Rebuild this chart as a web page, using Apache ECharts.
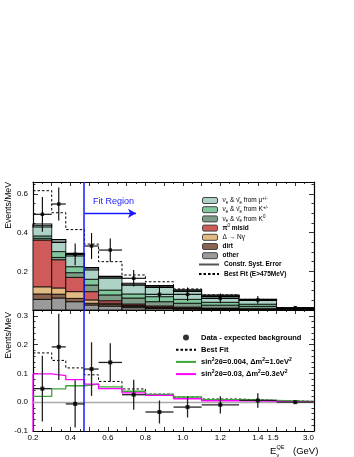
<!DOCTYPE html>
<html><head><meta charset="utf-8">
<script src="https://cdn.jsdelivr.net/npm/echarts@6/dist/echarts.min.js"></script>
<style>html,body{margin:0;padding:0;background:#fff}#c{width:354px;height:457px}</style>
</head><body><div id="c"></div>
<script>
// ---------- DATA ----------
const binEdges = [0.2, 0.3, 0.375, 0.475, 0.55, 0.675, 0.8, 0.95, 1.1, 1.3, 1.5, 3.0];
const xTickLabels = {0.2:'0.2', 0.4:'0.4', 0.6:'0.6', 0.8:'0.8', 1.0:'1.0', 1.2:'1.2', 1.4:'1.4', 1.5:'1.5', 1.7:'3.0'};
// top panel stacked backgrounds (Events/MeV), bottom -> top
const other   = [0.055, 0.062, 0.043, 0.026, 0.020, 0.012, 0.008, 0.005, 0.004, 0.003, 0.001];
const dirt    = [0.028, 0.020, 0.017, 0.009, 0.008, 0.006, 0.004, 0.003, 0.002, 0.001, 0.0003];
const deltaNg = [0.037, 0.032, 0.035, 0.017, 0.007, 0.005, 0.003, 0.002, 0.001, 0.001, 0.0002];
const pi0     = [0.242, 0.146, 0.074, 0.043, 0.013, 0.008, 0.006, 0.005, 0.003, 0.002, 0.001];
const fromK0  = [0.009, 0.012, 0.024, 0.034, 0.030, 0.031, 0.022, 0.020, 0.015, 0.012, 0.003];
const fromKpm = [0.012, 0.030, 0.031, 0.030, 0.025, 0.021, 0.026, 0.020, 0.015, 0.011, 0.002];
const fromMu  = [0.054, 0.055, 0.062, 0.054, 0.066, 0.050, 0.052, 0.045, 0.033, 0.022, 0.003];
const systErr = [0.008, 0.008, 0.007, 0.006, 0.005, 0.005, 0.005, 0.004, 0.004, 0.003, 0.001];
const bestFitTop = [0.617, 0.503, 0.416, 0.341, 0.250, 0.181, 0.146, 0.109, 0.078, 0.055, 0.010];
const dataTop    = [0.495, 0.548, 0.288, 0.331, 0.310, 0.164, 0.081, 0.081, 0.060, 0.052, 0.012];
const dataTopErr = [0.090, 0.085, 0.056, 0.067, 0.060, 0.043, 0.040, 0.035, 0.025, 0.020, 0.004];
// bottom panel: data - expected background
const excess     = [0.047, 0.192, -0.006, 0.115, 0.138, 0.026, -0.034, -0.017, -0.009, 0.006, 0.000];
const excessErr  = [0.114, 0.115, 0.082, 0.093, 0.067, 0.052, 0.040, 0.036, 0.030, 0.025, 0.005];
const bestFitExc = [0.171, 0.145, 0.119, 0.095, 0.072, 0.046, 0.028, 0.018, 0.011, 0.006, 0.003];
const oscA       = [0.020, 0.046, 0.057, 0.063, 0.053, 0.038, 0.027, 0.018, 0.009, 0.006, 0.003]; // sin^2 2θ=0.004, Δm^2=1.0
const oscB       = [0.098, 0.092, 0.078, 0.063, 0.047, 0.032, 0.024, 0.012, 0.005, 0.003, 0.001]; // sin^2 2θ=0.03, Δm^2=0.3

// ---------- helpers ----------
const fx = e => e <= 1.5 ? e : 1.5 + (e - 1.5) * 0.2 / 1.5;
const nb = binEdges.length - 1;
const lo = i => fx(binEdges[i]), hi = i => fx(binEdges[i + 1]);
const ctr = i => fx((binEdges[i] + binEdges[i + 1]) / 2);
const steps = (vals, from) => { const p = []; if (from !== undefined) p.push([lo(0), from]); vals.forEach((v, i) => { p.push([lo(i), v]); p.push([hi(i), v]); }); return p; };
const BOT_MIN = -0.1, BOT_MAX = 0.32, TOP_MAX = 0.662;

const comps = [
  {key: 'other', vals: other,   color: '#9a9a9a'},
  {key: 'dirt',  vals: dirt,    color: '#8a6450'},
  {key: 'delta', vals: deltaNg, color: '#e3bb82'},
  {key: 'pi0',   vals: pi0,     color: '#cf5a5a'},
  {key: 'K0',    vals: fromK0,  color: '#7f9c88'},
  {key: 'Kpm',   vals: fromKpm, color: '#80c79c'},
  {key: 'mu',    vals: fromMu,  color: '#acd3c5'}
];
let base = new Array(nb).fill(0);
comps.forEach(c => { c.lows = base.slice(); base = base.map((b, i) => b + c.vals[i]); c.highs = base.slice(); });
const stackTop = base;

function rectSeries(name, color, lows, highs, opts) {
  opts = opts || {};
  return {
    type: 'custom', name: name, xAxisIndex: 0, yAxisIndex: 0, z: opts.z || 2,
    itemStyle: {color: color, borderColor: '#333', borderWidth: 1},
    data: lows.map((l, i) => [lo(i), hi(i), l, highs[i]]),
    encode: {x: [0, 1], y: [2, 3]},
    renderItem: (p, api) => {
      const a = api.coord([api.value(0), api.value(2)]);
      const b = api.coord([api.value(1), api.value(3)]);
      return {type: 'rect', shape: {x: a[0], y: b[1], width: b[0] - a[0], height: a[1] - b[1]},
        style: {fill: opts.noFill ? 'none' : color, stroke: '#000', lineWidth: opts.lw || 0.8}};
    }
  };
}
function errSeries(vals, errs, gi, lw, color) {
  return {
    type: 'custom', xAxisIndex: gi * 2, yAxisIndex: gi * 2, z: 6,
    data: vals.map((v, i) => [lo(i), hi(i), ctr(i), v, errs[i]]),
    encode: {x: [0, 1], y: 3},
    renderItem: (p, api) => {
      const y = api.value(3), e = api.value(4), xc = api.value(2);
      const a = api.coord([api.value(0), y]), b = api.coord([api.value(1), y]);
      const t = api.coord([xc, y + e]), d = api.coord([xc, y - e]);
      return {type: 'group', children: [
        {type: 'line', shape: {x1: a[0], y1: a[1], x2: b[0], y2: b[1]}, style: {stroke: color, lineWidth: lw}},
        {type: 'line', shape: {x1: t[0], y1: t[1], x2: d[0], y2: d[1]}, style: {stroke: color, lineWidth: lw}}
      ]};
    }
  };
}

const FONT = '"Liberation Sans", Arial, Helvetica, sans-serif';
const xFmt = v => { const k = Math.round(v * 10) / 10; if (Math.abs(v - k) > 1e-6) return ''; const s = xTickLabels[k]; if (!s) return ''; return k === 1.5 ? '{s|' + s + '}' : (k === 1.7 ? '{e|' + s + '}' : s); };
const yFmt = v => { const k = Math.round(v * 10) / 10; if (Math.abs(v - k) > 1e-6) return ''; return k.toFixed(1); };

function xAx(gi, pos, labels) {
  return {type: 'value', gridIndex: gi, position: pos, min: 0.2, max: 1.7, interval: 0.1,
    axisLine: {show: true, onZero: false, lineStyle: {color: '#000', width: 1.2}},
    axisTick: {show: true, inside: true, length: 4, lineStyle: {color: '#000', width: 0.8}},
    minorTick: {show: true, splitNumber: 2, length: 2, lineStyle: {color: '#000', width: 0.8}},
    splitLine: {show: false},
    axisLabel: {show: labels, formatter: xFmt, fontSize: 8, color: '#000', fontFamily: FONT, margin: 3,
      rich: {s: {fontSize: 8, fontFamily: FONT, color: '#000', padding: [0, 7, 0, 0]},
             e: {fontSize: 8, fontFamily: FONT, color: '#000', padding: [0, 11, 0, 0]}}}};
}
function yAx(gi, pos, labels, min, max, minorN) {
  return {type: 'value', gridIndex: gi, position: pos, min: min, max: max, interval: gi === 0 ? 0.2 : 0.1,
    axisLine: {show: true, onZero: false, lineStyle: {color: '#000', width: 1.2}},
    axisTick: {show: true, inside: true, length: 5, lineStyle: {color: '#000', width: 0.8}},
    minorTick: {show: true, splitNumber: minorN, length: 2.5, lineStyle: {color: '#000', width: 0.8}},
    splitLine: {show: false},
    axisLabel: {show: labels, formatter: gi === 0 ? (v => (v < 1e-6 || Math.abs(v * 5 - Math.round(v * 5)) > 1e-6) ? '' : v.toFixed(1)) : yFmt,
      fontSize: 8, color: '#000', fontFamily: FONT, margin: 5}};
}

const legendText = {
  mu:    '{t|ν}{sb|e}{t| & ν̄}{sb|e}{t| from μ}{sp|+/-}',
  Kpm:   '{t|ν}{sb|e}{t| & ν̄}{sb|e}{t| from K}{sp|+/-}',
  K0:    '{t|ν}{sb|e}{t| & ν̄}{sb|e}{t| from K}{sp|0}',
  pi0:   '{b|π}{sp|0}{b| misid}',
  delta: '{t|Δ → Nγ}',
  dirt:  '{b|dirt}',
  other: '{b|other}',
  syst:  '{b|Constr. Syst. Error}',
  bfTop: '{b|Best Fit (E>475MeV)}',
  data:  '{c|Data - expected background}',
  bf:    '{c|Best Fit}',
  oA:    '{c|sin}{s2|2}{c|2θ=0.004, Δm}{s2|2}{c|=1.0eV}{s2|2}',
  oB:    '{c|sin}{s2|2}{c|2θ=0.03, Δm}{s2|2}{c|=0.3eV}{s2|2}'
};
const rich = {
  t:  {fontSize: 6.5, lineHeight: 9, fontFamily: FONT, color: '#000'},
  b:  {fontSize: 6.5, lineHeight: 9, fontFamily: FONT, fontWeight: 'bold', color: '#000'},
  sb: {fontSize: 4.5, lineHeight: 5, fontFamily: FONT, color: '#000', verticalAlign: 'bottom'},
  sp: {fontSize: 4.5, lineHeight: 5, fontFamily: FONT, color: '#000', verticalAlign: 'top'},
  c:  {fontSize: 7.5, lineHeight: 9, fontFamily: FONT, fontWeight: 'bold', color: '#000'},
  s2: {fontSize: 5, lineHeight: 5, fontFamily: FONT, fontWeight: 'bold', color: '#000', verticalAlign: 'top'}
};
const fmtLegend = n => legendText[n] || n;
const noSym = {opacity: 0};

const series = [];
comps.forEach(c => series.push(rectSeries(c.key, c.color, c.lows, c.highs)));
series.push(rectSeries('systBox', '#000', stackTop.map((s, i) => s - systErr[i]), stackTop.map((s, i) => s + systErr[i]), {noFill: true, lw: 1.1, z: 3}));
series.push({type: 'line', name: 'syst', xAxisIndex: 0, yAxisIndex: 0, data: [], symbol: 'none', lineStyle: {color: '#555', width: 1.2}, itemStyle: {color: '#555'}});
series.push({type: 'line', name: 'bfTop', xAxisIndex: 0, yAxisIndex: 0, data: steps(bestFitTop), symbol: 'none', z: 4,
  lineStyle: {color: '#000', width: 1, type: [2.5, 2]}, itemStyle: {color: '#000'},
  markLine: {silent: true, symbol: ['none', 'arrow'], symbolSize: [7, 8], label: {show: false},
    lineStyle: {color: '#1a1aff', width: 1.3, type: 'solid'},
    data: [[{coord: [0.475, 0.5]}, {coord: [0.75, 0.5]}]]}});
series.push(errSeries(dataTop, dataTopErr, 0, 1.1, '#000'));
series.push({type: 'scatter', name: 'dataTop', xAxisIndex: 0, yAxisIndex: 0, z: 7, symbol: 'rect', symbolSize: 3.5,
  itemStyle: {color: '#000'}, data: dataTop.map((v, i) => [ctr(i), v]),
  markLine: {silent: true, symbol: 'none', label: {show: false}, lineStyle: {color: '#1a1aff', width: 1.5, type: 'solid'}, data: [{xAxis: 0.475}]}});

// bottom panel
series.push({type: 'line', name: 'zero', xAxisIndex: 2, yAxisIndex: 2, data: [], symbol: 'none',
  markLine: {silent: true, symbol: 'none', label: {show: false}, lineStyle: {color: '#aaaaaa', width: 1.3, type: 'solid'}, data: [{yAxis: 0}]}});
series.push({type: 'line', name: 'bf', xAxisIndex: 2, yAxisIndex: 2, data: steps(bestFitExc), symbol: 'none', z: 3,
  lineStyle: {color: '#000', width: 1, type: [2.5, 2]}, itemStyle: {color: '#000'}});
series.push({type: 'line', name: 'oA', xAxisIndex: 2, yAxisIndex: 2, data: steps(oscA), symbol: 'none', z: 3,
  lineStyle: {color: '#3aa63a', width: 1.3}, itemStyle: {color: '#3aa63a'}});
series.push({type: 'line', name: 'oB', xAxisIndex: 2, yAxisIndex: 2, data: steps(oscB, BOT_MIN), symbol: 'none', z: 3,
  lineStyle: {color: '#ff00ff', width: 1.3}, itemStyle: {color: '#ff00ff'}});
series.push(errSeries(excess, excessErr, 1, 1.3, '#222'));
series.push({type: 'scatter', name: 'data', xAxisIndex: 2, yAxisIndex: 2, z: 7, symbol: 'rect', symbolSize: 4,
  itemStyle: {color: '#000'}, data: excess.map((v, i) => [ctr(i), v]),
  markLine: {silent: true, symbol: 'none', label: {show: false}, lineStyle: {color: '#1a1aff', width: 1.5, type: 'solid'}, data: [{xAxis: 0.475}]}});

const option = {
  animation: false,
  backgroundColor: '#fff',
  grid: [
    {left: 33, right: 40, top: 182, height: 128},
    {left: 33, right: 40, top: 310, height: 121}
  ],
  xAxis: [xAx(0, 'bottom', false), xAx(0, 'top', false), xAx(1, 'bottom', true), xAx(1, 'top', false)],
  yAxis: [yAx(0, 'left', true, 0, TOP_MAX, 4), yAx(0, 'right', false, 0, TOP_MAX, 4),
          yAx(1, 'left', true, BOT_MIN, BOT_MAX, 5), yAx(1, 'right', false, BOT_MIN, BOT_MAX, 5)],
  legend: [
    {orient: 'vertical', left: 197, top: 191, itemWidth: 15, itemHeight: 6, itemGap: 0.2, icon: 'roundRect',
     selectedMode: false, formatter: fmtLegend, textStyle: {rich: rich, lineHeight: 9, fontSize: 6.5},
     itemStyle: {borderColor: '#444', borderWidth: 1},
     data: ['mu', 'Kpm', 'K0', 'pi0', 'delta', 'dirt', 'other']},
    {orient: 'vertical', left: 193, top: 255, itemWidth: 20, itemHeight: 6, itemGap: 0.4,
     selectedMode: false, formatter: fmtLegend, textStyle: {rich: rich, lineHeight: 9, fontSize: 6.5},
     itemStyle: noSym,
     data: ['syst', 'bfTop']},
    {orient: 'vertical', left: 170, top: 328, itemWidth: 20, itemHeight: 6, itemGap: 3.2,
     selectedMode: false, formatter: fmtLegend, textStyle: {rich: rich, lineHeight: 9, fontSize: 7.5},
     data: [{name: 'data', icon: 'circle'}, {name: 'bf', itemStyle: noSym}, {name: 'oA', itemStyle: noSym}, {name: 'oB', itemStyle: noSym}]}
  ],
  graphic: [
    {type: 'text', x: 9, y: 182, rotation: Math.PI / 2, style: {text: 'Events/MeV', fontSize: 8.7, fontFamily: FONT, fill: '#000', align: 'right', verticalAlign: 'middle'}},
    {type: 'text', x: 9, y: 312, rotation: Math.PI / 2, style: {text: 'Events/MeV', fontSize: 8.7, fontFamily: FONT, fill: '#000', align: 'right', verticalAlign: 'middle'}},
    {type: 'text', x: 93, y: 202, style: {text: 'Fit Region', fontSize: 9, fontFamily: FONT, fill: '#1a1aff', align: 'left', verticalAlign: 'middle'}},
    {type: 'text', x: 270, y: 451, style: {text: 'E', fontSize: 9.5, fontFamily: FONT, fill: '#000', align: 'left', verticalAlign: 'middle'}},
    {type: 'text', x: 276.5, y: 447.5, style: {text: 'QE', fontSize: 5.5, fontFamily: FONT, fill: '#000', align: 'left', verticalAlign: 'middle'}},
    {type: 'text', x: 276.5, y: 455, style: {text: 'ν', fontSize: 5.5, fontFamily: FONT, fill: '#000', align: 'left', verticalAlign: 'middle'}},
    {type: 'text', x: 293, y: 451, style: {text: '(GeV)', fontSize: 9.5, fontFamily: FONT, fill: '#000', align: 'left', verticalAlign: 'middle'}}
  ],
  series: series
};
const chart = echarts.init(document.getElementById('c'), null, {renderer: 'canvas'});
chart.setOption(option);
</script></body></html>
